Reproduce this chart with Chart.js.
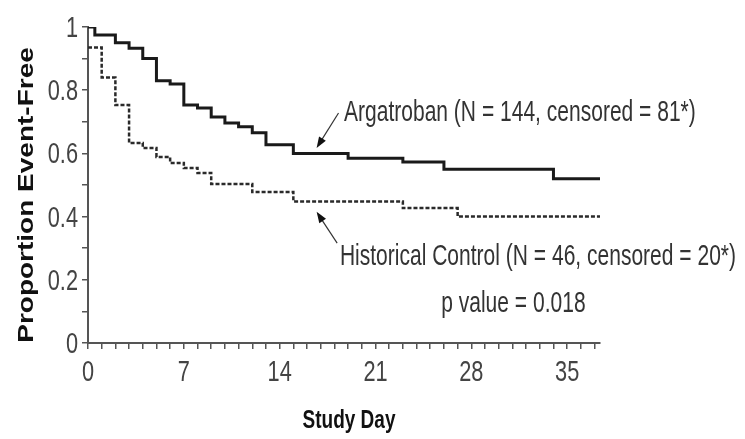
<!DOCTYPE html>
<html>
<head>
<meta charset="utf-8">
<script src="https://cdn.jsdelivr.net/npm/chart.js@4.4.0/dist/chart.umd.min.js"></script>
<style>
  html, body { margin: 0; padding: 0; background: #fff; }
  #wrap { width: 745px; height: 439px; position: relative; }
</style>
</head>
<body>
<div id="wrap"><canvas id="km"></canvas></div>
<script>
// Kaplan-Meier steps (day, proportion event-free)
let argDays = [0, 0.5, 2, 3, 4, 5, 6, 7, 8, 9, 10, 11, 12, 13, 15, 19, 23, 26, 34, 37.4];
let argSurv = [1.0, 0.975, 0.95, 0.933, 0.90, 0.83, 0.82, 0.753, 0.744, 0.715, 0.696, 0.684, 0.665, 0.627, 0.60, 0.585, 0.573, 0.55, 0.52, 0.52];

let ctlDays = [0, 1, 2, 3, 4, 5, 6, 7, 8, 9, 12, 15, 23, 27, 37.4];
let ctlSurv = [0.935, 0.84, 0.753, 0.633, 0.617, 0.589, 0.57, 0.554, 0.538, 0.503, 0.478, 0.448, 0.427, 0.40, 0.40];

let xLabelDays = [0, 7, 14, 21, 28, 35];
let yLabelVals = [0, 0.2, 0.4, 0.6, 0.8, 1];

let argLabel = "Argatroban (N = 144, censored = 81*)";
let ctlLabel = "Historical Control (N = 46, censored = 20*)";
let pLabel = "p value = 0.018";

// the figure's type is a condensed grotesque, so text is squeezed sideways
let squeeze = 0.75;
let baseFont = "'Liberation Sans', Arial, sans-serif";

let toPoints = (xs, ys) => xs.map((x, i) => ({ x: x, y: ys[i] }));

let drawText = (ctx, str, x, y, font, sx, color, align) => {
  ctx.save();
  ctx.translate(x, y);
  ctx.scale(sx, 1);
  ctx.font = font;
  ctx.fillStyle = color;
  ctx.textAlign = align || "left";
  ctx.textBaseline = "alphabetic";
  ctx.fillText(str, 0, 0);
  ctx.restore();
};

let drawArrow = (ctx, x1, y1, x2, y2) => {
  let ang = Math.atan2(y2 - y1, x2 - x1);
  ctx.save();
  ctx.strokeStyle = "#333";
  ctx.fillStyle = "#111";
  ctx.lineWidth = 1.2;
  ctx.beginPath();
  ctx.moveTo(x1, y1);
  ctx.lineTo(x2 - 6 * Math.cos(ang), y2 - 6 * Math.sin(ang));
  ctx.stroke();
  ctx.translate(x2, y2);
  ctx.rotate(ang);
  ctx.beginPath();
  ctx.moveTo(0, 0);
  ctx.lineTo(-11, -4);
  ctx.lineTo(-11, 4);
  ctx.closePath();
  ctx.fill();
  ctx.restore();
};

let annotations = {
  id: "annotations",
  afterDraw(chart) {
    let ctx = chart.ctx;
    let xs = chart.scales.x;
    let ys = chart.scales.y;
    let px = v => xs.getPixelForValue(v);
    let py = v => ys.getPixelForValue(v);

    // tick labels, placed from the scales' own ticks
    let tickFontStr = "29px " + baseFont;
    xs.ticks.forEach(t => {
      if (xLabelDays.includes(t.value)) {
        drawText(ctx, String(t.value), px(t.value), ys.bottom + 38, tickFontStr, squeeze, "#444", "center");
      }
    });
    ys.ticks.forEach(t => {
      let r = Math.round(t.value * 10) / 10;
      if (yLabelVals.some(l => Math.abs(l - r) < 1e-6)) {
        drawText(ctx, String(r), xs.left - 10, py(t.value) + 10, tickFontStr, squeeze, "#444", "right");
      }
    });

    drawArrow(ctx, px(18.3), py(0.728), px(16.7), py(0.617));
    drawArrow(ctx, px(18.2), py(0.316), px(16.7), py(0.415));

    let noteFont = "29px " + baseFont;
    drawText(ctx, argLabel, px(18.7), py(0.703), noteFont, 0.725, "#333");
    drawText(ctx, ctlLabel, px(18.4), py(0.247), noteFont, 0.725, "#333");
    drawText(ctx, pLabel, px(25.8), py(0.098), noteFont, 0.725, "#333");

    // axis titles
    drawText(ctx, "Study Day", 349, 428, "bold 25px " + baseFont, 0.76, "#111", "center");

    ctx.save();
    ctx.translate(33, 195);
    ctx.rotate(-Math.PI / 2);
    ctx.scale(1, 0.76);
    ctx.font = "bold 28px " + baseFont;
    ctx.fillStyle = "#111";
    ctx.textAlign = "center";
    ctx.textBaseline = "alphabetic";
    ctx.fillText("Proportion Event-Free", 0, 0);
    ctx.restore();
  }
};

let ctx = document.getElementById("km").getContext("2d");
let kmChart = new Chart(ctx, {
  type: "line",
  data: {
    datasets: [
      {
        label: "Argatroban",
        data: toPoints(argDays, argSurv),
        stepped: true,
        borderColor: "#1a1a1a",
        borderWidth: 3,
        pointRadius: 0,
        fill: false
      },
      {
        label: "Historical Control",
        data: toPoints(ctlDays, ctlSurv),
        stepped: true,
        borderColor: "#2a2a2a",
        borderWidth: 2.5,
        borderDash: [4, 2],
        pointRadius: 0,
        fill: false
      }
    ]
  },
  options: {
    responsive: true,
    maintainAspectRatio: false,
    animation: false,
    layout: { padding: { left: 0, top: 27, right: 145, bottom: 0 } },
    plugins: { legend: { display: false }, tooltip: { enabled: false } },
    scales: {
      x: {
        type: "linear",
        min: 0,
        max: 37.4,
        afterBuildTicks: scale => {
          let t = [];
          for (let d = 0; d <= 37; d++) t.push({ value: d });
          scale.ticks = t;
        },
        afterFit: scale => { scale.height = 96; },
        ticks: {
          autoSkip: false,
          maxRotation: 0,
          color: "rgba(0,0,0,0)",
          font: { size: 12 },
          callback: () => ""
        },
        grid: { drawOnChartArea: false, drawTicks: true, tickLength: 6, color: "#555", lineWidth: 1.5 },
        border: { color: "#555", width: 2 }
      },
      y: {
        min: 0,
        max: 1,
        afterBuildTicks: scale => {
          let t = [];
          for (let i = 0; i <= 10; i++) t.push({ value: i / 10 });
          scale.ticks = t;
        },
        afterFit: scale => { scale.width = 88; },
        ticks: {
          autoSkip: false,
          color: "rgba(0,0,0,0)",
          font: { size: 12 },
          callback: () => ""
        },
        grid: { drawOnChartArea: false, drawTicks: true, tickLength: 6, color: "#555", lineWidth: 1.5 },
        border: { color: "#555", width: 2 }
      }
    }
  },
  plugins: [annotations]
});
</script>
</body>
</html>
